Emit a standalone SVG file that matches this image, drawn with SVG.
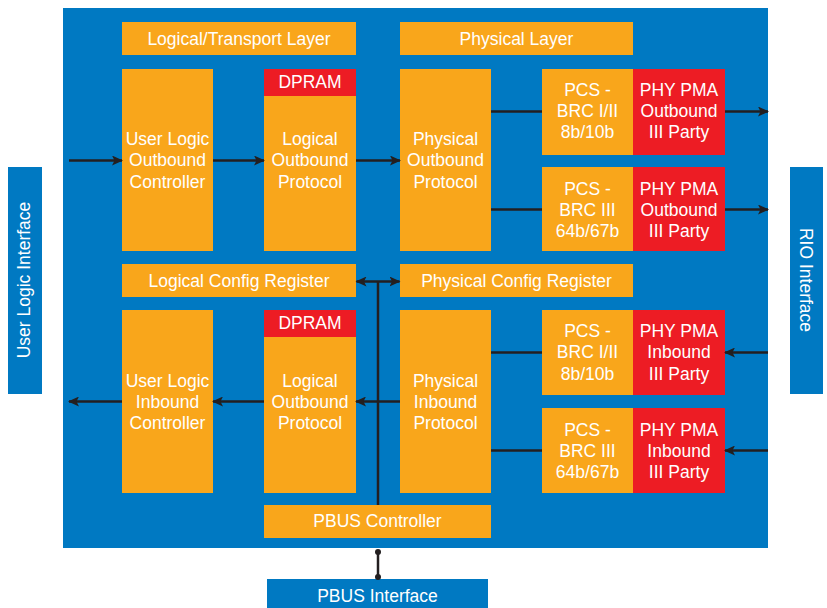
<svg xmlns="http://www.w3.org/2000/svg" width="827" height="608" viewBox="0 0 827 608">
<defs>
<style>
.bg{fill:#0079c2}
.o{fill:#f9a61b}
.r{fill:#ed1c24}
.b{fill:#0079c2}
text{font-family:"Liberation Sans",Arial,sans-serif;font-size:17.5px;fill:#ffffff;text-anchor:middle}
.ln{stroke:#231f20;stroke-width:2.5;fill:none}
</style>
<marker id="ah" markerUnits="userSpaceOnUse" markerWidth="12" markerHeight="10" refX="10" refY="5" orient="auto-start-reverse" viewBox="0 0 12 10">
<path d="M0,0 L11,5 L0,10 L2.5,5 Z" fill="#231f20"/>
</marker>
</defs>
<rect class="bg" x="63" y="8" width="705" height="540"/>

<g id="user-logic-interface"><rect class="b" x="8" y="167" width="34" height="227"/><text transform="translate(30,280) rotate(-90)">User Logic Interface</text></g>
<g id="rio-interface"><rect class="b" x="790" y="167" width="33" height="227"/><text transform="translate(800,280) rotate(90)">RIO Interface</text></g>
<g id="pbus-interface"><rect class="b" x="267" y="579" width="221" height="29"/><text x="377.5" y="602">PBUS Interface</text></g>

<g id="logical-transport-layer"><rect class="o" x="122" y="22" width="234" height="33"/><text x="239" y="45">Logical/Transport Layer</text></g>
<g id="physical-layer"><rect class="o" x="400" y="22" width="233" height="33"/><text x="516.5" y="45">Physical Layer</text></g>

<g id="user-logic-outbound"><rect class="o" x="122" y="69" width="91" height="182"/><text x="167.5" y="145">User Logic</text><text x="167.5" y="166">Outbound</text><text x="167.5" y="188">Controller</text></g>
<g id="logical-outbound-1"><rect class="o" x="264" y="69" width="92" height="182"/><rect class="r" x="264" y="69" width="92" height="27"/><text x="310" y="88">DPRAM</text><text x="310" y="145">Logical</text><text x="310" y="166">Outbound</text><text x="310" y="188">Protocol</text></g>
<g id="physical-outbound"><rect class="o" x="400" y="69" width="91" height="182"/><text x="445.5" y="145">Physical</text><text x="445.5" y="166">Outbound</text><text x="445.5" y="188">Protocol</text></g>
<g id="pcs-brc12-out"><rect class="o" x="542" y="69" width="91" height="86"/><text x="587.5" y="96">PCS -</text><text x="587.5" y="117">BRC I/II</text><text x="587.5" y="138">8b/10b</text></g>
<g id="phy-pma-out-1"><rect class="r" x="633" y="69" width="92" height="86"/><text x="679" y="96">PHY PMA</text><text x="679" y="117">Outbound</text><text x="679" y="138">III Party</text></g>
<g id="pcs-brc3-out"><rect class="o" x="542" y="167" width="91" height="84"/><text x="587.5" y="195">PCS -</text><text x="587.5" y="216">BRC III</text><text x="587.5" y="237">64b/67b</text></g>
<g id="phy-pma-out-2"><rect class="r" x="633" y="167" width="92" height="84"/><text x="679" y="195">PHY PMA</text><text x="679" y="216">Outbound</text><text x="679" y="237">III Party</text></g>

<g id="logical-config"><rect class="o" x="122" y="264" width="234" height="33"/><text x="239" y="287">Logical Config Register</text></g>
<g id="physical-config"><rect class="o" x="400" y="264" width="233" height="33"/><text x="516.5" y="287">Physical Config Register</text></g>

<g id="user-logic-inbound"><rect class="o" x="122" y="310" width="91" height="183"/><text x="167.5" y="387">User Logic</text><text x="167.5" y="408">Inbound</text><text x="167.5" y="429">Controller</text></g>
<g id="logical-outbound-2"><rect class="o" x="264" y="310" width="92" height="183"/><rect class="r" x="264" y="310" width="92" height="27"/><text x="310" y="329">DPRAM</text><text x="310" y="387">Logical</text><text x="310" y="408">Outbound</text><text x="310" y="429">Protocol</text></g>
<g id="physical-inbound"><rect class="o" x="400" y="310" width="91" height="183"/><text x="445.5" y="387">Physical</text><text x="445.5" y="408">Inbound</text><text x="445.5" y="429">Protocol</text></g>
<g id="pcs-brc12-in"><rect class="o" x="542" y="310" width="91" height="85"/><text x="587.5" y="337">PCS -</text><text x="587.5" y="358">BRC I/II</text><text x="587.5" y="380">8b/10b</text></g>
<g id="phy-pma-in-1"><rect class="r" x="633" y="310" width="92" height="85"/><text x="679" y="337">PHY PMA</text><text x="679" y="358">Inbound</text><text x="679" y="380">III Party</text></g>
<g id="pcs-brc3-in"><rect class="o" x="542" y="408" width="91" height="85"/><text x="587.5" y="436">PCS -</text><text x="587.5" y="457">BRC III</text><text x="587.5" y="478">64b/67b</text></g>
<g id="phy-pma-in-2"><rect class="r" x="633" y="408" width="92" height="85"/><text x="679" y="436">PHY PMA</text><text x="679" y="457">Inbound</text><text x="679" y="478">III Party</text></g>

<g id="pbus-controller"><rect class="o" x="264" y="505" width="227" height="33"/><text x="377.5" y="527">PBUS Controller</text></g>

<g id="connectors">
<line class="ln" x1="69" y1="160.5" x2="122" y2="160.5" marker-end="url(#ah)"/>
<line class="ln" x1="213" y1="160.5" x2="264" y2="160.5" marker-end="url(#ah)"/>
<line class="ln" x1="356" y1="160.5" x2="400" y2="160.5" marker-end="url(#ah)"/>
<line class="ln" x1="491" y1="111.5" x2="542" y2="111.5"/>
<line class="ln" x1="491" y1="209.5" x2="542" y2="209.5"/>
<line class="ln" x1="725" y1="111.5" x2="768" y2="111.5" marker-end="url(#ah)"/>
<line class="ln" x1="725" y1="209.5" x2="768" y2="209.5" marker-end="url(#ah)"/>
<line class="ln" x1="768" y1="352.5" x2="725" y2="352.5" marker-end="url(#ah)"/>
<line class="ln" x1="768" y1="450.5" x2="725" y2="450.5" marker-end="url(#ah)"/>
<line class="ln" x1="491" y1="352.5" x2="542" y2="352.5"/>
<line class="ln" x1="491" y1="450.5" x2="542" y2="450.5"/>
<line class="ln" x1="400" y1="401.5" x2="356" y2="401.5" marker-end="url(#ah)"/>
<line class="ln" x1="264" y1="401.5" x2="213" y2="401.5" marker-end="url(#ah)"/>
<line class="ln" x1="122" y1="401.5" x2="69" y2="401.5" marker-end="url(#ah)"/>
<line class="ln" x1="356.5" y1="281.5" x2="399.5" y2="281.5" marker-start="url(#ah)" marker-end="url(#ah)"/>
<line class="ln" x1="378" y1="281.5" x2="378" y2="505"/>
<line class="ln" x1="378" y1="552" x2="378" y2="577"/>
<circle cx="378" cy="552" r="3" fill="#231f20"/>
<circle cx="378" cy="577" r="3" fill="#231f20"/>
</g>
</svg>
